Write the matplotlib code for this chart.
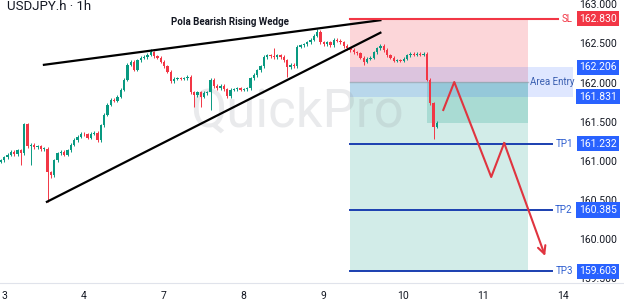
import numpy as np
import matplotlib
matplotlib.use('Agg')
import matplotlib.pyplot as plt
from matplotlib.transforms import blended_transform_factory

plt.rcParams['font.family'] = ['Roboto', 'DejaVu Sans']

# ── Data (hourly closes) ──
first_open = 161.00
closes = [161.02, 161.06, 161.09, 161.13, 161.10, 161.15, 161.11, 161.48, 161.20, 161.22,
          161.19, 161.20, 161.16, 161.17, 160.87, 160.83, 161.02, 161.11, 161.13, 161.09,
          161.15, 161.22, 161.28, 161.32, 161.36, 161.35, 161.31, 161.36, 161.37, 161.28,
          161.47, 161.60, 161.73, 161.79, 161.78, 161.83, 161.92, 162.05, 162.24, 162.28,
          162.18, 162.30, 162.33, 162.34, 162.37, 162.40, 162.35, 162.33, 162.28, 162.22,
          162.15, 162.03, 162.06, 162.07, 162.06, 162.07, 162.09, 161.89, 161.85, 161.89,
          161.83, 161.88, 161.89, 162.05, 161.97, 161.94, 161.97, 161.93, 161.84, 161.92,
          161.93, 161.94, 161.92, 161.93, 161.94, 162.07, 162.11, 162.17, 162.22, 162.34,
          162.36, 162.35, 162.34, 162.36, 162.34, 162.30, 162.21, 162.24, 162.22, 162.47,
          162.49, 162.50, 162.53, 162.56, 162.61, 162.66, 162.53, 162.50, 162.53, 162.49,
          162.56, 162.55, 162.53, 162.48, 162.45, 162.43, 162.40, 162.39, 162.33, 162.28,
          162.32, 162.33, 162.40, 162.45, 162.48, 162.43, 162.36, 162.33, 162.29, 162.30,
          162.29, 162.32, 162.36, 162.38, 162.37, 162.38, 162.37, 162.38, 162.05, 161.75,
          161.45, 161.50]
extra_highs = {7: 161.50, 45: 162.44, 82: 162.45, 95: 162.70, 128: 162.40}
extra_lows = {6: 160.96, 9: 160.96, 14: 160.49, 15: 160.79, 58: 161.70, 60: 161.70,
              63: 161.66, 86: 162.09, 109: 162.24, 130: 161.29}

day_labels = ['3', '4', '7', '8', '9', '10', '11', '14']
price_ticks = [163.0, 162.5, 162.0, 161.5, 161.0, 160.5, 160.0, 159.5]

sl_price = 162.830
entry_hi, entry_lo = 162.206, 161.831
entry_price = 162.02
tp_names = ['TP1', 'TP2', 'TP3']
tp_prices = [161.232, 160.385, 159.603]
progress_price = 161.50

wedge_upper = ([12.9, 114.0], [162.24, 162.81])
wedge_lower = ([13.8, 114.0], [160.49, 162.65])

path_x = [132.9, 136.2, 147.3, 151.2, 163.5]
path_y = [161.663, 162.02, 160.807, 161.241, 159.798]

# ── Build ──
GREEN, RED, BLUE = '#089981', '#f23645', '#2962ff'
fig = plt.figure(figsize=(6.24, 3.06), dpi=100)
ax = fig.add_axes([0, 23 / 306, 1, 283 / 306])
ax.set_xlim(-0.3, 187.2)
ax.set_ylim(159.453, 163.068)

# zones of the short position tool
zx0, zx1 = 105, 158.4
ax.fill_between([zx0, zx1], entry_price, sl_price, color=RED, alpha=0.2, lw=0, zorder=1)
ax.fill_between([zx0, zx1], tp_prices[2], entry_price, color=GREEN, alpha=0.18, lw=0, zorder=1)
ax.fill_between([128.1, zx1], progress_price, entry_price, color=GREEN, alpha=0.2, lw=0, zorder=1)
ax.fill_between([zx0, 171.9], entry_lo, entry_hi, color=BLUE, alpha=0.15, lw=0, zorder=1)
ax.plot([zx0, zx1], [entry_price] * 2, color='#9598a1', lw=1, alpha=0.6, zorder=1)

# watermark
ax.text(89, 161.64, 'QuickPro', fontsize=38, color='#9598a1', alpha=0.2,
        ha='center', va='center', family=['Roboto', 'DejaVu Sans'], zorder=2)

# candles
n = len(closes)
opens = [first_open] + closes[:-1]
for i in range(n):
    o, c = opens[i], closes[i]
    hi = extra_highs.get(i, max(o, c) + 0.02)
    lo = extra_lows.get(i, min(o, c) - 0.02)
    col = GREEN if c >= o else RED
    ax.vlines(i, lo, hi, color=col, lw=0.7, zorder=3)
    ax.bar(i, max(abs(c - o), 0.012), bottom=min(o, c), width=0.7,
           color=col, lw=0, zorder=3)

# wedge
ax.plot(*wedge_upper, color='black', lw=1.6, zorder=4)
ax.plot(*wedge_lower, color='black', lw=1.6, zorder=4)
ax.text(68.7, 162.79, 'Pola Bearish Rising Wedge', fontsize=7, fontweight='bold',
        ha='center', va='center', color='#131722', zorder=5)

# SL / TP lines
ax.plot([zx0, 167.4], [sl_price] * 2, color=RED, lw=1.5, zorder=4)
for p in tp_prices:
    ax.plot([zx0, 165.6], [p] * 2, color='#1a3fb0', lw=1.4, zorder=4)

# forecast path
ax.plot(path_x[:-1], path_y[:-1], color='#e0343f', lw=1.5, zorder=5)
ax.annotate('', xy=(path_x[-1], path_y[-1]), xytext=(path_x[-2], path_y[-2]),
            arrowprops=dict(arrowstyle='->', color='#e0343f', lw=1.5,
                            mutation_scale=14, shrinkA=0, shrinkB=0), zorder=5)

# right price scale
tr = blended_transform_factory(ax.transAxes, ax.transData)
xlab = 598 / 624
for p in price_ticks:
    ax.text(xlab, p, f'{p:.3f}', transform=tr, fontsize=7.5, color='#131722',
            ha='center', va='center', zorder=6)

def tag(price, text, fc):
    ax.text(xlab, price, text, transform=tr, fontsize=7.5, color='white',
            ha='center', va='center', zorder=7,
            bbox=dict(boxstyle='square,pad=0.25', fc=fc, ec='none'))

tag(sl_price, f'{sl_price:.3f}', RED)
ax.text(567 / 624, sl_price, 'SL', transform=tr, fontsize=7, color=RED,
        ha='center', va='center', zorder=6)
tag(entry_hi, f'{entry_hi:.3f}', BLUE)
tag(entry_lo, f'{entry_lo:.3f}', BLUE)
ax.text(552 / 624, 162.02, 'Area Entry', transform=tr, fontsize=7, color='#3a5fb0',
        ha='center', va='center', zorder=6)
for name, p in zip(tp_names, tp_prices):
    tag(p, f'{p:.3f}', BLUE)
    ax.text(564 / 624, p, name, transform=tr, fontsize=7, color='#2f5fd0',
            ha='center', va='center', zorder=6)

# symbol
ax.text(7 / 624, 162.98, 'USDJPY.h · 1h', transform=tr, fontsize=9.5,
        color='#131722', ha='left', va='center', zorder=6)

# axes styling
for s in ['top', 'left', 'right']:
    ax.spines[s].set_visible(False)
ax.spines['bottom'].set_color('#e0e3eb')
ax.set_yticks([])
ax.set_xticks([24 * k + 0.9 for k in range(len(day_labels))])
ax.set_xticklabels(day_labels, fontsize=7.5, color='#131722')
ax.tick_params(axis='x', length=0, pad=6)

plt.savefig('out.png', dpi=100)
